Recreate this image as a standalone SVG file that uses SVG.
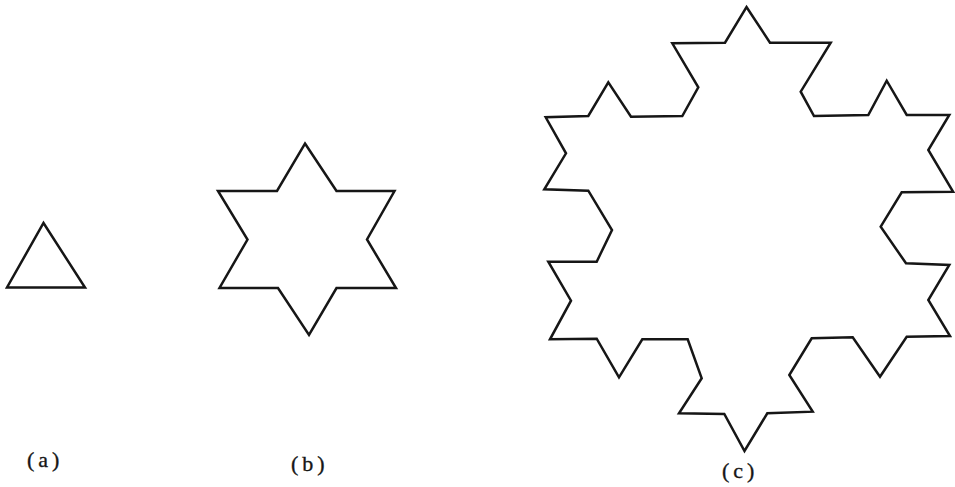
<svg xmlns="http://www.w3.org/2000/svg" width="955" height="487" viewBox="0 0 955 487">
  <style>
    .shape { fill: none; stroke: #161616; stroke-width: 2.5; stroke-linejoin: miter; stroke-miterlimit: 10; }
    .label { font-family: "Liberation Serif", "Times New Roman", serif; font-size: 22px; fill: #161616; stroke: #161616; stroke-width: 0.35; letter-spacing: 4px; }
  </style>
  <rect width="955" height="487" fill="#ffffff"/>
  <g id="fig-a">
    <path class="shape" d="M43.5,223 L85,287.5 L7,287.5 Z"/>
    <text class="label" x="27" y="467">(a)</text>
  </g>
  <g id="fig-b">
    <path class="shape" d="M305,143.5 L336.5,191 L394.5,191 L367,239.5 L396,288 L336.5,288 L309,335 L278,288 L219.5,288 L247.5,239.5 L218,191 L277,191 Z"/>
    <text class="label" x="291" y="471">(b)</text>
  </g>
  <g id="fig-c">
    <path class="shape" d="M746.5,7 L770,42.7 L830.7,42.7 L800.7,91.7 L814,116 L868.3,115 L886.7,80.7 L906.7,115 L949.3,115 L928.3,150 L953,191.7 L901.7,192.3 L880.7,226.7 L906,263.3 L949.3,265 L928.3,300 L950,336 L906.7,336.7 L880,376.7 L852.7,337.3 L811.7,338.3 L789.3,375 L812.7,411.7 L767.3,413.3 L744.5,451 L724.3,414 L679,413.3 L701.7,378.3 L687.7,339.3 L642.3,339.3 L619,377.3 L596.7,338.7 L550,339.3 L571,300.7 L548.3,261.7 L596.7,261.7 L612,230 L588.3,190.7 L544.3,189.3 L566,153.3 L545.7,117.3 L588.3,116 L608.3,82.3 L631,116.7 L682.3,116 L698.3,87.3 L672.3,43.3 L725,42.7 Z"/>
    <text class="label" x="722" y="478">(c)</text>
  </g>
</svg>
